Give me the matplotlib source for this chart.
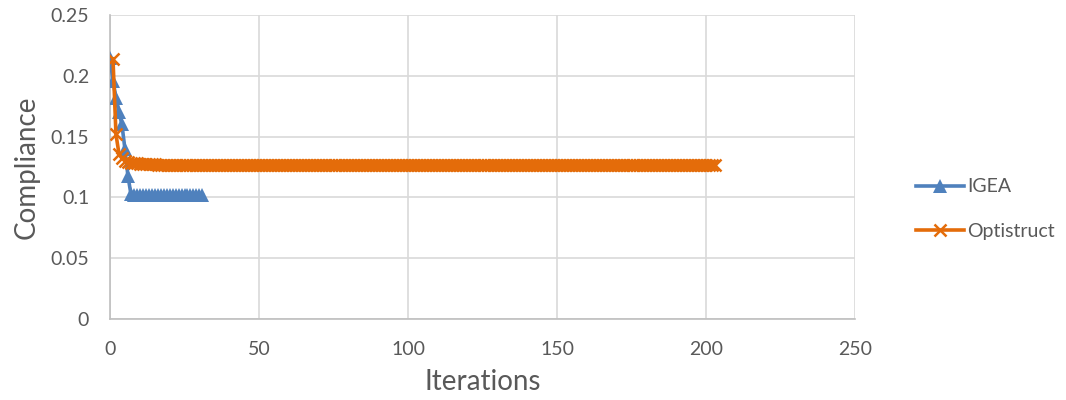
import matplotlib
matplotlib.use("Agg")
import matplotlib.pyplot as plt

plt.rcParams['font.family'] = ['Lato', 'DejaVu Sans']

# Compliance history per iteration for both optimisers
igea_iter = list(range(0, 32))
igea_comp = [0.215, 0.196, 0.182, 0.170, 0.160, 0.140, 0.118, 0.103] + [0.102] * 24

opti_iter = list(range(1, 204))
opti_comp = ([0.214, 0.152, 0.136, 0.132, 0.130, 0.129, 0.1285, 0.128, 0.128,
              0.1275, 0.1275, 0.1272, 0.1272, 0.1271, 0.1271] + [0.127] * 188)

BLUE = '#4F81BD'
ORANGE = '#E46C0A'
GRID = '#D9D9D9'
TEXT = '#595959'

fig = plt.figure(figsize=(10.66, 4.0), dpi=100)
ax = fig.add_axes([110 / 1066, 1 - 319 / 400, 745 / 1066, 304 / 400])

ax.plot(igea_iter, igea_comp, color=BLUE, lw=2.6, marker='^', markersize=10,
        markeredgewidth=0, label='IGEA', zorder=3)
ax.plot(opti_iter, opti_comp, color=ORANGE, lw=2.6, marker='x', markersize=8,
        markeredgewidth=1.8, label='Optistruct', zorder=4)

ax.set_xlim(0, 250)
ax.set_ylim(0, 0.25)
ax.set_xticks([0, 50, 100, 150, 200, 250])
ax.set_yticks([0, 0.05, 0.1, 0.15, 0.2, 0.25])
ax.set_yticklabels(['0', '0.05', '0.1', '0.15', '0.2', '0.25'])

ax.grid(True, color=GRID, lw=1.2, zorder=0)
ax.set_axisbelow(True)
for side in ('top', 'right'):
    ax.spines[side].set_visible(False)
for side in ('left', 'bottom'):
    ax.spines[side].set_color('#BFBFBF')
    ax.spines[side].set_linewidth(1.2)

ax.tick_params(axis='both', length=0, labelsize=14, colors=TEXT)
ax.tick_params(axis='y', pad=15)
ax.tick_params(axis='x', pad=16)

ax.set_xlabel('Iterations', fontsize=20, color=TEXT, labelpad=8)
ax.set_ylabel('Compliance', fontsize=20, color=TEXT, labelpad=8)

fig.legend(loc='center left', bbox_to_anchor=(898 / 1066, 1 - 209 / 400),
           frameon=False, fontsize=14, labelcolor=TEXT, handlelength=2.5,
           handletextpad=0.15, labelspacing=1.4)

fig.savefig('out.png', dpi=100)
